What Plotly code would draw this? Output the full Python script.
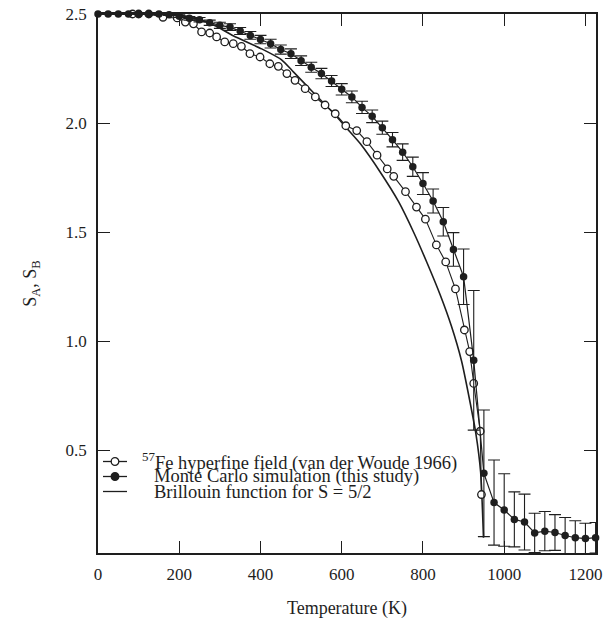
import plotly.graph_objects as go

# ---- Monte Carlo simulation (filled circles, with error bars) ----
mc_T = [0, 25, 50, 75, 100, 125, 150, 175, 200, 225, 250, 275, 300, 325, 350, 375,
        400, 425, 450, 475, 500, 525, 550, 575, 600, 625, 650, 675, 700, 725, 750,
        775, 800, 825, 850, 875, 900, 925, 950, 975, 1000, 1025, 1050, 1075, 1100,
        1125, 1150, 1175, 1200, 1225]
mc_S = [2.50, 2.50, 2.50, 2.50, 2.50, 2.50, 2.50, 2.497, 2.49, 2.48, 2.474, 2.46,
        2.448, 2.44, 2.422, 2.402, 2.383, 2.364, 2.337, 2.318, 2.286, 2.256, 2.227,
        2.193, 2.155, 2.12, 2.072, 2.031, 1.979, 1.924, 1.867, 1.80, 1.723, 1.643,
        1.548, 1.421, 1.296, 0.913, 0.395, 0.261, 0.227, 0.184, 0.172, 0.122, 0.13,
        0.124, 0.11, 0.10, 0.096, 0.10]
mc_err = [0.0, 0.0, 0.0, 0.0, 0.0, 0.002, 0.003, 0.004, 0.006, 0.008, 0.01, 0.012,
          0.014, 0.015, 0.016, 0.018, 0.019, 0.02, 0.021, 0.022, 0.022, 0.023, 0.024,
          0.025, 0.026, 0.027, 0.028, 0.029, 0.03, 0.033, 0.038, 0.044, 0.05, 0.055,
          0.065, 0.077, 0.127, 0.32, 0.29, 0.195, 0.166, 0.126, 0.128, 0.09, 0.09,
          0.082, 0.083, 0.078, 0.07, 0.07]

# ---- 57Fe hyperfine field (open circles) ----
fe_T = [85, 100, 125, 160, 195, 215, 235, 255, 275, 292, 312, 333, 353, 374, 399,
        423, 444, 465, 485, 510, 535, 559, 584, 610, 637, 662, 687, 712, 728, 757,
        784, 806, 833, 856, 880, 902, 915, 925, 941, 944]
fe_S = [2.50, 2.50, 2.50, 2.485, 2.482, 2.463, 2.455, 2.418, 2.413, 2.395, 2.372,
        2.364, 2.352, 2.318, 2.303, 2.272, 2.26, 2.227, 2.196, 2.158, 2.12, 2.083,
        2.043, 1.988, 1.966, 1.915, 1.853, 1.79, 1.756, 1.686, 1.615, 1.56, 1.442,
        1.364, 1.24, 1.052, 0.953, 0.807, 0.588, 0.298]

# ---- Brillouin function for S = 5/2 (solid line) ----
br_T = [0, 150, 200, 238, 290, 333, 403, 452, 481, 530, 580, 613, 646, 695, 740,
        777, 810, 843, 870, 895, 915, 930, 942, 949]
br_S = [2.50, 2.50, 2.495, 2.48, 2.445, 2.40, 2.34, 2.29, 2.235, 2.14, 2.045, 1.975,
        1.905, 1.775, 1.64, 1.50, 1.36, 1.21, 1.07, 0.91, 0.73, 0.58, 0.40, 0.10]

x_ticks = [0, 200, 400, 600, 800, 1000, 1200]
y_ticks = [0.5, 1.0, 1.5, 2.0, 2.5]

legend_labels = ["<sup>57</sup>Fe hyperfine field (van der Woude 1966)",
                 "Monte Carlo simulation (this study)",
                 "Brillouin function for S = 5/2"]

INK = "#1e1e1e"
FONT = "Liberation Serif, Times New Roman, serif"
TICKFONT = dict(family=FONT, size=17, color=INK)
TITLEFONT = dict(family=FONT, size=18, color=INK)

fig = go.Figure()

fig.add_trace(go.Scatter(
    x=br_T, y=br_S, mode="lines", line=dict(color=INK, width=1.6, shape="spline",
                                           smoothing=0.6),
    cliponaxis=False, showlegend=False))

fig.add_trace(go.Scatter(
    x=fe_T, y=fe_S, mode="lines+markers",
    line=dict(color=INK, width=1.1),
    marker=dict(symbol="circle", size=7.5, color="white",
                line=dict(color=INK, width=1.3)),
    cliponaxis=False, showlegend=False))

fig.add_trace(go.Scatter(
    x=mc_T, y=mc_S, mode="lines+markers",
    line=dict(color=INK, width=1.2),
    marker=dict(symbol="circle", size=7.5, color=INK),
    error_y=dict(type="data", array=mc_err, visible=True, color=INK,
                 thickness=1.1, width=6),
    cliponaxis=False, showlegend=False))

# ---- hand-built legend (tight line spacing as in the reference) ----
x0p, x1p = 98, 596
y0p, y1p = 14, 553
def px(xp):
    return (xp - x0p) / (x1p - x0p)
def py(yp):
    return (y1p - yp) / (y1p - y0p)

rows = [461.5, 476.5, 491.5]
text_x = [140, 152, 152]
for i, (lab, ry, tx) in enumerate(zip(legend_labels, rows, text_x)):
    fig.add_shape(type="line", xref="paper", yref="paper",
                  x0=px(103), x1=px(127), y0=py(ry), y1=py(ry),
                  line=dict(color=INK, width=1.3))
    if i < 2:
        fig.add_shape(type="circle", xref="paper", yref="paper",
                      xsizemode="pixel", ysizemode="pixel",
                      xanchor=px(115), yanchor=py(ry),
                      x0=-3.8, x1=3.8, y0=-3.8, y1=3.8,
                      fillcolor="white" if i == 0 else INK,
                      line=dict(color=INK, width=1.3))
    fig.add_annotation(text=lab, xref="paper", yref="paper",
                       x=px(tx), y=py(ry), xanchor="left", yanchor="middle",
                       showarrow=False, font=dict(family=FONT, size=18.5, color=INK))

fig.update_layout(
    template="none",
    width=609, height=619,
    margin=dict(l=98, r=13, t=14, b=66, autoexpand=False),
    paper_bgcolor="white", plot_bgcolor="white",
    font=dict(family=FONT, size=17, color=INK),
    showlegend=False,
)

fig.update_xaxes(
    range=[0, 1226], tickvals=x_ticks, ticktext=[str(v) for v in x_ticks],
    tickfont=TICKFONT, automargin=False,
    ticks="inside", ticklen=12, tickwidth=1.3, tickcolor=INK,
    showline=True, linecolor=INK, linewidth=1.5, mirror="ticks",
    showgrid=False, zeroline=False, ticklabelstandoff=5,
    title=dict(text="Temperature (K)", standoff=18, font=TITLEFONT),
)
fig.update_yaxes(
    range=[0.03, 2.5], tickvals=y_ticks, ticktext=[f"{v:.1f}" for v in y_ticks],
    tickfont=TICKFONT, automargin=False,
    ticks="inside", ticklen=12, tickwidth=1.3, tickcolor=INK,
    showline=True, linecolor=INK, linewidth=1.5, mirror="ticks",
    showgrid=False, zeroline=False, ticklabelstandoff=6,
    title=dict(text="S<sub>A</sub>, S<sub>B</sub>", standoff=24, font=TITLEFONT),
)

fig.write_html("out.html")
